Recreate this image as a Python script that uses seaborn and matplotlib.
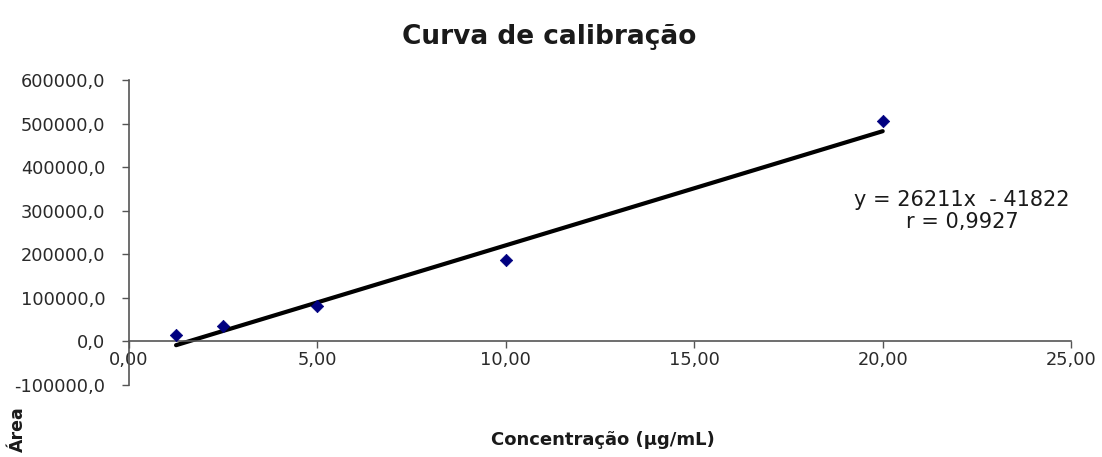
import matplotlib
matplotlib.use("Agg")
import matplotlib.pyplot as plt
import seaborn as sns
import numpy as np
import pandas as pd

# Data
conc = [1.25, 2.5, 5.0, 10.0, 20.0]
area = [14000, 34000, 80000, 186000, 505000]
slope = 26211
intercept = -41822
r_value = "0,9927"
x_ticks = [0, 5, 10, 15, 20, 25]
x_tick_labels = ["0,00", "5,00", "10,00", "15,00", "20,00", "25,00"]
y_ticks = [-100000, 0, 100000, 200000, 300000, 400000, 500000, 600000]
y_tick_labels = ["-100000,0", "0,0", "100000,0", "200000,0", "300000,0",
                 "400000,0", "500000,0", "600000,0"]

sns.set_theme(style="white")
plt.rcParams['font.family'] = ['DejaVu Sans']

fig = plt.figure(figsize=(11.02, 4.57), dpi=100)
ax = fig.add_axes([0.117, 0.158, 0.855, 0.667])

df = pd.DataFrame({"conc": conc, "area": area})
trend_x = [min(conc), max(conc)]
trend = pd.DataFrame({"x": trend_x, "y": [slope * v + intercept for v in trend_x]})

sns.lineplot(data=trend, x="x", y="y", ax=ax, color="black", linewidth=3, zorder=2)
sns.scatterplot(data=df, x="conc", y="area", ax=ax, marker="D", s=40,
                color="#000080", edgecolor="#000080", zorder=3)

ax.set_xlim(0, 25)
ax.set_ylim(-100000, 600000)
ax.set_xticks(x_ticks)
ax.set_xticklabels(x_tick_labels)
ax.set_yticks(y_ticks)
ax.set_yticklabels(y_tick_labels)
ax.set_xlabel("")
ax.set_ylabel("")

for s in ["top", "right"]:
    ax.spines[s].set_visible(False)
ax.spines["bottom"].set_position(("data", 0))
for s in ["left", "bottom"]:
    ax.spines[s].set_color("#555555")
    ax.spines[s].set_linewidth(1.2)
ax.tick_params(axis="both", direction="out", length=5, width=1, color="#555555",
               bottom=True, left=True, labelsize=12.8, labelcolor="#2a2a2a")
ax.tick_params(axis="y", pad=12)
ax.tick_params(axis="x", pad=2)

ax.text(0.884, 0.57, f"y = {slope}x  - {abs(intercept)}\nr = {r_value}",
        transform=ax.transAxes, ha="center", va="center", fontsize=15,
        color="#1a1a1a", linespacing=1.1)

fig.text(0.498, 0.918, "Curva de calibração", ha="center", va="center",
         fontsize=19, fontweight="bold", color="#1a1a1a")
fig.text(0.547, 0.038, "Concentração (µg/mL)", ha="center", va="center",
         fontsize=13, fontweight="bold", color="#1a1a1a")
fig.text(0.016, 0.06, "Área", ha="center", va="center", rotation=90,
         fontsize=12.5, fontweight="bold", color="#1a1a1a")

fig.savefig("out.png", dpi=100)
